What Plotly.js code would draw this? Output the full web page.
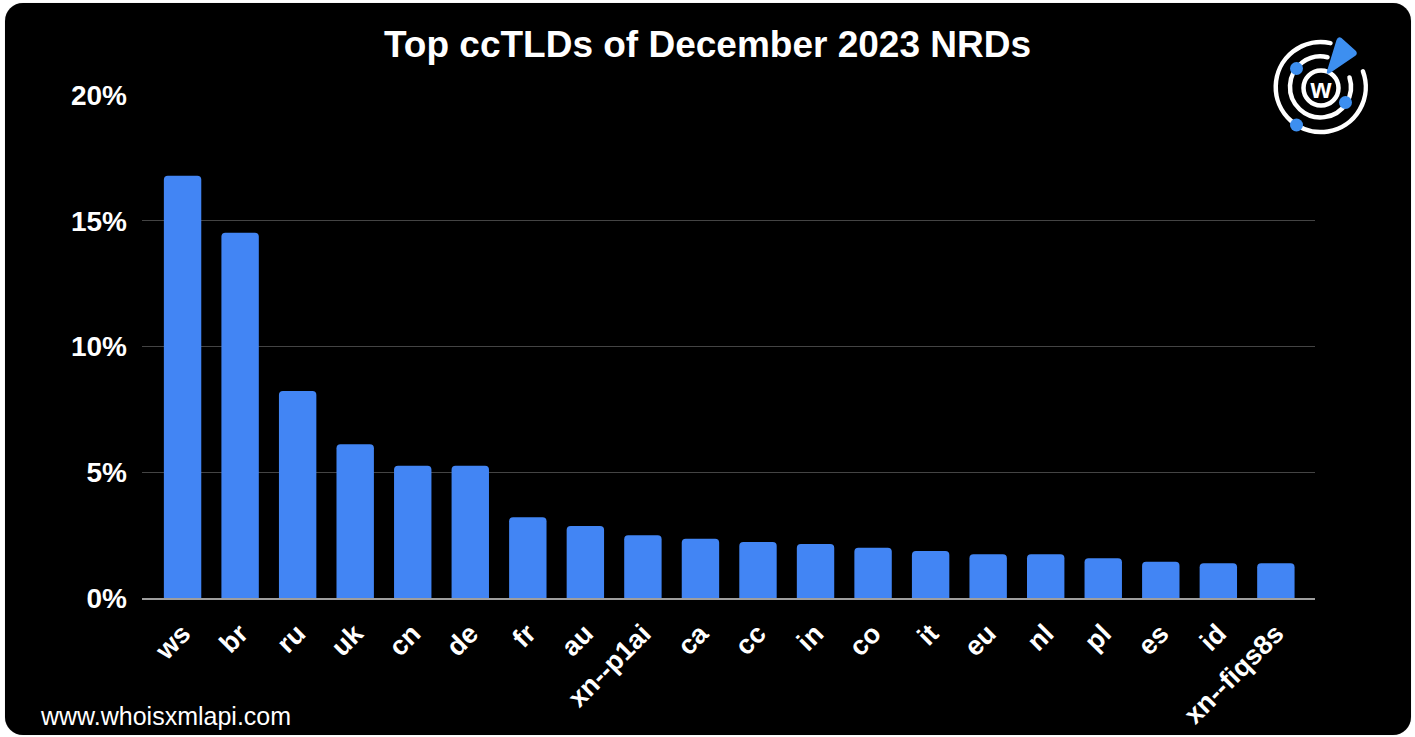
<!DOCTYPE html>
<html>
<head>
<meta charset="utf-8">
<script src="https://cdn.plot.ly/plotly-3.0.1.min.js"></script>
<style>
  html, body { margin: 0; padding: 0; background: #ffffff; width: 1415px; height: 737px; overflow: hidden; }
  #card { position: absolute; left: 5px; top: 3px; width: 1406px; height: 732px; background: #000; border-radius: 18px; box-shadow: 0 0 1px #bbb; }
  #chart { position: absolute; left: 0; top: 0; width: 1415px; height: 737px; }
  #logo { position: absolute; left: 0; top: 0; pointer-events: none; }
</style>
</head>
<body>
<div id="card"></div>
<div id="chart"></div>
<svg id="logo" width="1415" height="737" xmlns="http://www.w3.org/2000/svg">
  <g fill="none" stroke="#ffffff" stroke-width="4.5" stroke-linecap="round">
    <path d="M 1330.5 43.1 A 45 45 0 1 0 1362.9 71.3"/>
    <path d="M 1327.5 57.2 A 30.5 30.5 0 1 0 1349.5 77.5"/>
    <circle cx="1321" cy="88" r="17.5"/>
  </g>
  <text x="1321" y="97.5" text-anchor="middle" fill="#ffffff" font-family="Liberation Sans, Arial, sans-serif" font-weight="bold" font-size="27">w</text>
  <g fill="#3d8ff0">
    <circle cx="1296.5" cy="68.5" r="6.5"/>
    <circle cx="1345.5" cy="102.5" r="6.5"/>
    <circle cx="1296.5" cy="125" r="6.5"/>
    <path d="M 1327 71 L 1336.5 40 Q 1338 36 1341.5 38 L 1356 51 Q 1358 54 1355 56 L 1330 73 Q 1326 75 1327 71 Z"/>
  </g>
</svg>
<script>
// ---- data ----
const categories = ["ws","br","ru","uk","cn","de","fr","au","xn--p1ai","ca","cc","in","co","it","eu","nl","pl","es","id","xn--fiqs8s"];
const shares = [16.79, 14.52, 8.23, 6.11, 5.26, 5.26, 3.21, 2.86, 2.50, 2.36, 2.23, 2.15, 2.00, 1.87, 1.74, 1.74, 1.58, 1.44, 1.38, 1.38];
const yTickValues = [0, 5, 10, 15, 20];
const yTickLabels = ["0%", "5%", "10%", "15%", "20%"];
const chartTitle = "Top ccTLDs of December 2023 NRDs";
const footerText = "www.whoisxmlapi.com";

// ---- layout geometry ----
const W = 1415, H = 737;
const M = { l: 142, r: 100, t: 95, b: 139 };
const pw = W - M.l - M.r, ph = H - M.t - M.b;
const pxToPaperX = px => (px - M.l) / pw;
const pxToPaperY = py => (H - M.b - py) / ph;

const FONT = "Liberation Sans, Arial, Helvetica, sans-serif";

const trace = {
  type: "bar",
  x: categories,
  y: shares,
  marker: { color: "#4285f4", cornerradius: 4, line: { width: 0 } },
  hoverinfo: "skip"
};

const layout = {
  width: W, height: H,
  margin: M,
  paper_bgcolor: "rgba(0,0,0,0)",
  plot_bgcolor: "rgba(0,0,0,0)",
  showlegend: false,
  bargap: 0.35,
  title: {
    text: chartTitle,
    font: { family: FONT, size: 37, color: "#ffffff", weight: "bold" },
    x: 0.5, xref: "container", xanchor: "center",
    y: 1 - 44 / H, yref: "container", yanchor: "middle"
  },
  xaxis: {
    type: "category",
    range: [-0.705, 19.68],
    tickangle: -45,
    tickfont: { family: FONT, size: 27, color: "#ffffff", weight: "bold" },
    showgrid: false,
    zeroline: false,
    showline: true, linecolor: "#9e9e9e", linewidth: 2,
    ticks: "", ticklabelstandoff: 7,
    fixedrange: true
  },
  yaxis: {
    range: [0, 20],
    tickvals: yTickValues,
    ticktext: yTickLabels,
    tickfont: { family: FONT, size: 28, color: "#ffffff", weight: "bold" },
    showgrid: true, gridcolor: "#444444", gridwidth: 1,
    zeroline: false, showline: false,
    ticks: "", ticklabelstandoff: 14,
    fixedrange: true
  },
  annotations: [{
    text: footerText,
    xref: "paper", yref: "paper",
    x: pxToPaperX(38), y: pxToPaperY(716),
    xanchor: "left", yanchor: "middle",
    showarrow: false,
    font: { family: FONT, size: 25, color: "#ffffff" }
  }]
};

Plotly.newPlot("chart", [trace], layout, { displayModeBar: false, staticPlot: true });
</script>
</body>
</html>
